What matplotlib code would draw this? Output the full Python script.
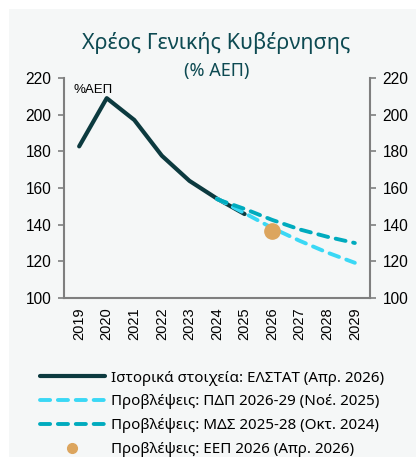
import matplotlib.pyplot as plt
from matplotlib.patches import Rectangle

years = [2019, 2020, 2021, 2022, 2023, 2024, 2025, 2026, 2027, 2028, 2029]

hist_years = [2019, 2020, 2021, 2022, 2023, 2024, 2025]
hist_vals = [182.7, 209.0, 197.1, 177.6, 163.9, 154.2, 145.8]

pdp_years = [2024, 2025, 2026, 2027, 2028, 2029]
pdp_vals = [154.2, 146.3, 138.2, 131.2, 124.8, 119.2]

mds_years = [2024, 2025, 2026, 2027, 2028, 2029]
mds_vals = [153.9, 148.6, 142.6, 137.4, 133.4, 130.0]

eep_years = [2026]
eep_vals = [136.6]

yticks = [100, 120, 140, 160, 180, 200, 220]

C_DARK = "#0c3a3f"
C_LIGHT = "#3ad8f5"
C_TEAL = "#00abbe"
C_DOT = "#dca55e"
C_TITLE = "#0d4a52"
C_SPINE = "#7f7f7f"
BG = "#f5f7f7"
TICK_FONT = ["Liberation Sans", "DejaVu Sans"]


def main() -> None:
    plt.rcParams["font.family"] = ["Noto Sans", "DejaVu Sans"]
    fig = plt.figure(figsize=(4.16, 4.57), dpi=100)
    fig.patch.set_facecolor("white")
    fig.patches.append(Rectangle((9 / 416, 0), 1, 1 - 9 / 457,
                                 transform=fig.transFigure,
                                 facecolor=BG, edgecolor="none", zorder=-1))

    ax = fig.add_axes([64 / 416, 1 - 298 / 457, 306 / 416, 220 / 457])
    ax.set_facecolor(BG)

    ax.plot(hist_years, hist_vals, color=C_DARK, lw=3.0,
            solid_capstyle="round", label="Ιστορικά στοιχεία: ΕΛΣΤΑΤ (Απρ. 2026)")
    ax.plot(pdp_years, pdp_vals, color=C_LIGHT, lw=2.8, dashes=(2.6, 2.0),
            dash_capstyle="round", label="Προβλέψεις: ΠΔΠ 2026-29 (Νοέ. 2025)")
    ax.plot(mds_years, mds_vals, color=C_TEAL, lw=2.8, dashes=(2.6, 2.0),
            dash_capstyle="round", label="Προβλέψεις: ΜΔΣ 2025-28 (Οκτ. 2024)")
    ax.plot(eep_years, eep_vals, "o", color=C_DOT, ms=11, zorder=5,
            label="Προβλέψεις: ΕΕΠ 2026 (Απρ. 2026)")

    ax.set_xlim(2018.45, 2029.55)
    ax.set_ylim(100, 220)
    ax.set_xticks(years)
    ax.set_xticklabels([str(y) for y in years], rotation=90,
                       family=TICK_FONT, fontsize=10.5)
    ax.set_yticks(yticks)
    ax.tick_params(axis="x", length=0, pad=7)
    ax.tick_params(axis="y", length=4, width=1.2, color=C_SPINE,
                   pad=5, right=True, labelright=True)
    for lab in ax.get_yticklabels():
        lab.set_family(TICK_FONT)
        lab.set_fontsize(11.2)

    for side in ["left", "right", "bottom"]:
        ax.spines[side].set_color(C_SPINE)
        ax.spines[side].set_linewidth(1.5)
    ax.spines["top"].set_visible(False)

    ax.text(0.03, 0.975, "%ΑΕΠ", transform=ax.transAxes, fontsize=9.5,
            va="top", ha="left", family=TICK_FONT)

    fig.text(0.52, 1 - 43 / 457, "Χρέος Γενικής Κυβέρνησης", ha="center",
             va="center", fontsize=15.5, color=C_TITLE)
    fig.text(0.52, 1 - 71 / 457, "(% ΑΕΠ)", ha="center", va="center",
             fontsize=13, color=C_TITLE)

    leg = fig.legend(loc="upper left", bbox_to_anchor=(32 / 416, 1 - 363 / 457),
                     frameon=False, fontsize=10.9, handlelength=4.3,
                     handletextpad=0.45, labelspacing=0.58, borderpad=0)
    leg.legend_handles[3].set_markersize(7)

    fig.savefig("out.png", dpi=100, facecolor="white")


if __name__ == "__main__":
    main()
